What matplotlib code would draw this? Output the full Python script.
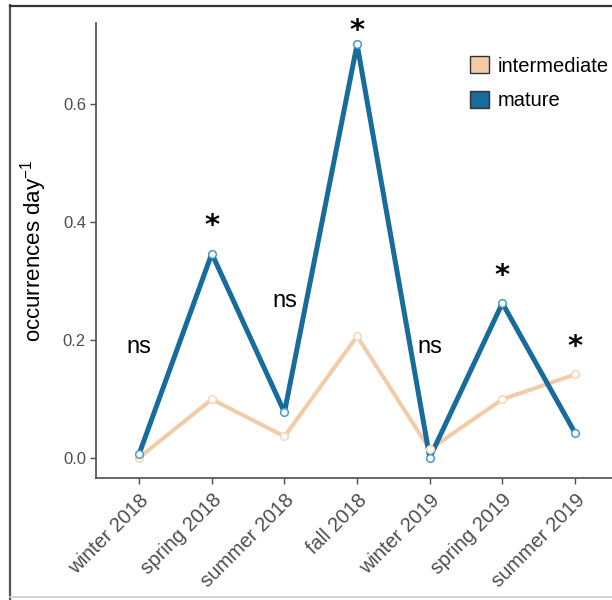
import numpy as np
import matplotlib
matplotlib.use('Agg')
import matplotlib.pyplot as plt
from matplotlib.patches import Patch
from matplotlib.lines import Line2D

plt.rcParams['font.family'] = ['Liberation Sans', 'DejaVu Sans']
plt.rcParams['mathtext.default'] = 'regular'

seasons = ['winter 2018', 'spring 2018', 'summer 2018', 'fall 2018',
           'winter 2019', 'spring 2019', 'summer 2019']
intermediate = [0.0, 0.099, 0.036, 0.206, 0.014, 0.099, 0.141]
mature = [0.0065, 0.346, 0.077, 0.701, 0.0, 0.262, 0.042]
sig_labels = ['ns', '*', 'ns', '*', 'ns', '*', '*']
sig_y = [0.188, 0.404, 0.265, 0.736, 0.188, 0.320, 0.200]

col_int = '#F2CBA7'
col_int_edge = '#F6D5B8'
col_mat = '#176C9C'
col_mat_edge = '#4A9ACB'
grey = '#4D4D4D'

fig = plt.figure(figsize=(6.12, 6.0), dpi=100)
ax = fig.add_axes([95.6 / 612, 122 / 600, 523 / 612, 455 / 600])

x = np.arange(len(seasons))
ax.plot(x, intermediate, color=col_int, lw=2.9, zorder=2)
ax.plot(x, mature, color=col_mat, lw=3.6, zorder=3)
ax.plot(x, intermediate, ls='None', marker='o', ms=5.5, mfc='white',
        mec=col_int_edge, mew=1.1, zorder=4)
ax.plot(x, mature, ls='None', marker='o', ms=5.5, mfc='white',
        mec=col_mat_edge, mew=1.1, zorder=5)

for xi, lab, yi in zip(x, sig_labels, sig_y):
    if lab == 'ns':
        ax.text(xi, yi, lab, ha='center', va='center', fontsize=17, color='black')
    else:
        # asterisk glyph sits high in its box, so nudge it down
        ax.annotate(lab, (xi, yi), xytext=(0, -5), textcoords='offset points',
                    ha='center', va='center', fontsize=21, color='black',
                    family='DejaVu Sans', fontweight='bold')

ax.set_xlim(-0.6, 6.6)
ax.set_ylim(-0.0345, 0.737)
ax.set_xticks(x)
ax.set_xticklabels(seasons, rotation=45, ha='right', va='top',
                   rotation_mode='anchor', fontsize=14.5, color=grey)
ax.set_yticks([0.0, 0.2, 0.4, 0.6])
ax.set_yticklabels(['0.0', '0.2', '0.4', '0.6'], fontsize=12, color=grey)
ax.tick_params(axis='both', length=4, width=1, color=grey)
ax.tick_params(axis='y', pad=3)
ax.tick_params(axis='x', pad=5)
for s in ['top', 'right']:
    ax.spines[s].set_visible(False)
for s in ['left', 'bottom']:
    ax.spines[s].set_color(grey)
    ax.spines[s].set_linewidth(1.2)

ax.set_ylabel('occurrences day$^{-1}$', fontsize=16, color='black', labelpad=10)

handles = [Patch(facecolor=col_int, edgecolor='#333333', lw=1.0, label='intermediate'),
           Patch(facecolor=col_mat, edgecolor='#333333', lw=1.0, label='mature')]
fig.legend(handles=handles, loc='upper left', bbox_to_anchor=(462 / 612, 1 - 48 / 600),
           frameon=False, fontsize=14.5, handlelength=0.95, handleheight=0.95,
           handletextpad=0.4, labelspacing=0.75, borderaxespad=0)

# border of the original figure
fig.add_artist(Line2D([9.5 / 612, 9.5 / 612], [0, 1 - 5 / 600], transform=fig.transFigure,
                      color='#555555', lw=1.6))
fig.add_artist(Line2D([9.5 / 612, 1], [1 - 5.5 / 600, 1 - 5.5 / 600], transform=fig.transFigure,
                      color='#333333', lw=1.6))
fig.add_artist(Line2D([9.5 / 612, 1], [3 / 600, 3 / 600], transform=fig.transFigure,
                      color='#CCCCCC', lw=1.2))

fig.savefig('out.png', dpi=100)
